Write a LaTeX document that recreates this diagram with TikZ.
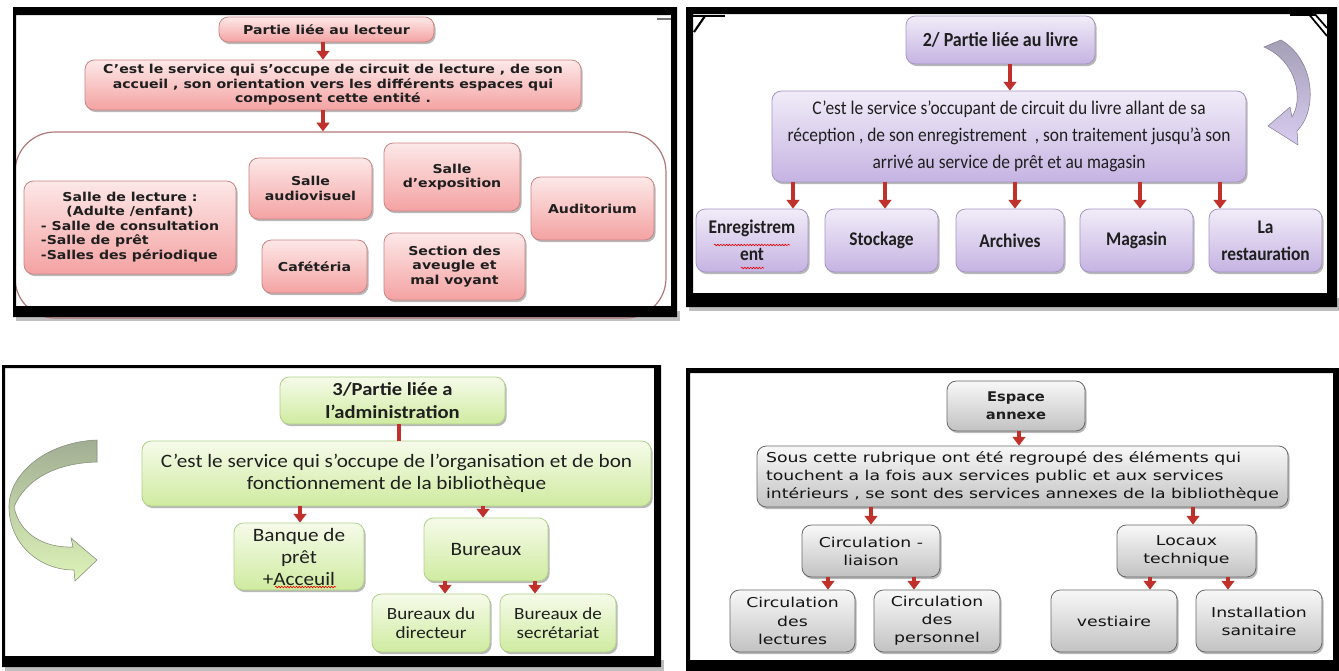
\documentclass[tikz,border=0pt]{standalone}
\usepackage{fontspec}
\usetikzlibrary{arrows.meta,shadows,decorations.pathmorphing}
\setmainfont{DejaVu Sans}
\newfontfamily\dvsq[FakeStretch=1.15]{DejaVu Sans}
\newfontfamily\dvsw[FakeStretch=1.27]{DejaVu Sans}
\newfontfamily\dvsb[FakeStretch=1.1]{DejaVu Sans}
\newfontfamily\carlw[FakeStretch=1.12]{Carlito}
\newfontfamily\carlc[FakeStretch=0.9]{Carlito}
\definecolor{pinkT}{HTML}{FDE8E8}
\definecolor{pinkB}{HTML}{F4A2A2}
\definecolor{pinkD}{HTML}{C98585}
\definecolor{contD}{HTML}{B07878}
\definecolor{lavT}{HTML}{F1ECF8}
\definecolor{lavB}{HTML}{C5B3E2}
\definecolor{lavD}{HTML}{A596C2}
\definecolor{grnT}{HTML}{F6FBEA}
\definecolor{grnB}{HTML}{CFEBA0}
\definecolor{grnD}{HTML}{B2D08A}
\definecolor{gryT}{HTML}{F8F8F8}
\definecolor{gryB}{HTML}{C2C2C2}
\definecolor{gryD}{HTML}{686868}
\definecolor{arrred}{HTML}{C0312B}
\definecolor{purArT}{HTML}{A59FB6}
\definecolor{purArB}{HTML}{D8CCF0}
\definecolor{grnArT}{HTML}{A2AE94}
\definecolor{grnArB}{HTML}{DDF3B8}
\tikzset{
  spanbox/.style n args={4}{minimum width={(#3-#1)*0.75pt}, minimum height={(#4-#2)*0.75pt},
    at={({(#1+#3)/2},{(#2+#4)/2})}},
  bx/.style={rectangle, rounded corners=7pt, line width=0.6pt, align=center, inner sep=0pt, text=black!88,
    drop shadow={shadow xshift=1.2pt, shadow yshift=-1.6pt, opacity=0.28, fill=black}},
  pbox/.style={bx, draw=pinkD, top color=pinkT, bottom color=pinkB},
  lbox/.style={bx, draw=lavD, top color=lavT, bottom color=lavB},
  gbox/.style={bx, draw=grnD, top color=grnT, bottom color=grnB},
  ybox/.style={bx, draw=gryD, top color=gryT, bottom color=gryB},
  contbox/.style={rectangle, draw=contD, line width=0.9pt, rounded corners=30pt, inner sep=0pt},
  redarrow/.style={draw=arrred, line width=3.6pt, -{Triangle[width=9.5pt,length=6.5pt]}},
  redbar/.style={draw=arrred, line width=3.6pt},
  wave/.style={draw=red, line width=0.45pt, decorate, decoration={snake, amplitude=0.6pt, segment length=2.2pt}},
  q1/.style={font=\dvsq\bfseries\fontsize{9.2}{10.9}\selectfont},
  q2/.style={font=\carlc\fontsize{14.5}{20}\selectfont},
  q2b/.style={font=\carlc\bfseries\fontsize{14.5}{20}\selectfont},
  q2t/.style={font=\carlc\bfseries\fontsize{15}{20}\selectfont},
  q3/.style={font=\carlw\fontsize{14.2}{16.5}\selectfont},
  q3b/.style={font=\carlw\bfseries\fontsize{13.8}{16.7}\selectfont},
  q3s/.style={font=\carlw\fontsize{12.8}{14.5}\selectfont},
  q4/.style={font=\dvsw\fontsize{10.2}{13.6}\selectfont, text=black!92},
  q4b/.style={font=\dvsb\bfseries\fontsize{10}{13.6}\selectfont},
  frame/.style={fill=black, even odd rule}
}
\begin{document}
\begin{tikzpicture}[x=0.75pt,y=-0.75pt]
\useasboundingbox (0,0) rectangle (1339,671);
\fill[white] (0,0) rectangle (1339,671);
% frame shadows
\fill[black!25] (16,311) rectangle (680,321);
\fill[black!25] (689,298) rectangle (1339,311);
\fill[black!25] (5,660) rectangle (664,671);

% ---------- Q1 ----------
\node[contbox, spanbox={15}{132}{666}{318}] (lc) {};
\node[pbox, q1, spanbox={219}{17}{434}{42}] (lt) {Partie liée au lecteur};
\node[pbox, q1, spanbox={85}{60}{581}{110}] (ld) {C’est le service qui s’occupe de circuit de lecture , de son\\accueil , son orientation vers les différents espaces qui\\composent cette entité .};
\node[pbox, q1, spanbox={24}{181}{236}{274}] (l1) {\begin{tabular}{@{}l@{}}\multicolumn{1}{@{}c@{}}{Salle de lecture :}\\\multicolumn{1}{@{}c@{}}{(Adulte /enfant)}\\- Salle de consultation\\-Salle de prêt\\-Salles des périodique\end{tabular}};
\node[pbox, q1, spanbox={249}{158}{372}{219}] (l2) {Salle\\audiovisuel};
\node[pbox, q1, spanbox={384}{143}{520}{211}] (l3) {Salle\\d’exposition};
\node[pbox, q1, spanbox={531}{177}{654}{240}] (l4) {Auditorium};
\node[pbox, q1, spanbox={262}{240}{367}{293}] (l5) {Cafétéria};
\node[pbox, q1, spanbox={384}{233}{525}{300}] (l6) {Section des\\aveugle et\\mal voyant};
\draw[redarrow] (lt.south -| 323,0) -- (ld.north -| 323,0);
\draw[redarrow] (ld.south -| 323,0) -- (lc.north -| 323,0);

% ---------- Q2 ----------
\path[top color=purArT, bottom color=purArB, draw=purArT!80!black, line width=0.4pt]
  (1281,40) .. controls (1315,60) and (1318,110) .. (1297,131)
  -- (1298,145) -- (1268,126) -- (1290,107) -- (1292,117)
  .. controls (1303,100) and (1298,62) .. (1264,47) -- cycle;
\node[lbox, q2t, spanbox={906}{16}{1095}{64}] (bt) {2/ Partie liée au livre};
\node[lbox, q2, spanbox={772}{91}{1246}{182}] (bd) {C’est le service s’occupant de circuit du livre allant de sa\\réception , de son enregistrement \ , son traitement jusqu’à son\\arrivé au service de prêt et au magasin};
\node[lbox, q2b, spanbox={696}{209}{808}{272}] (b1) {Enregistrem\\ent};
\node[lbox, q2b, spanbox={825}{209}{938}{272}] (b2) {Stockage};
\node[lbox, q2b, spanbox={956}{209}{1064}{272}] (b3) {Archives};
\node[lbox, q2b, spanbox={1080}{209}{1193}{272}] (b4) {Magasin};
\node[lbox, q2b, spanbox={1209}{209}{1322}{272}] (b5) {La\\restauration};
\draw[wave] (714,245) -- (790,245);
\draw[wave] (741,268) -- (764,268);
\draw[redarrow] (bt.south -| 1010,0) -- (bd.north -| 1010,0);
\draw[redarrow] (bd.south -| 793,0) -- (b1.north -| 793,0);
\draw[redarrow] (bd.south -| 885,0) -- (b2.north -| 885,0);
\draw[redarrow] (bd.south -| 1015,0) -- (b3.north -| 1015,0);
\draw[redarrow] (bd.south -| 1140,0) -- (b4.north -| 1140,0);
\draw[redarrow] (bd.south -| 1220,0) -- (b5.north -| 1220,0);

% ---------- Q3 ----------
\path[top color=grnArT, bottom color=grnArB, draw=grnArT!80!black, line width=0.4pt]
  (97,440) .. controls (45,442) and (8,475) .. (9,508)
  .. controls (10,545) and (40,570) .. (74,570)
  -- (75,581) -- (97,560) -- (71,538) -- (73,547)
  .. controls (45,548) and (20,535) .. (14,507)
  .. controls (25,480) and (55,463) .. (97,462) -- cycle;
\node[gbox, q3b, spanbox={280}{377}{505}{424}] (at) {3/Partie liée a\\l’administration};
\node[gbox, q3, spanbox={142}{441}{651}{506}] (ad) {C’est le service qui s’occupe de l’organisation et de bon\\fonctionnement de la bibliothèque};
\node[gbox, q3, spanbox={234}{523}{364}{590}] (a1) {Banque de\\prêt\\+Acceuil};
\node[gbox, q3, spanbox={424}{518}{548}{581}] (a2) {Bureaux};
\node[gbox, q3s, spanbox={372}{594}{490}{652}] (a3) {Bureaux du\\directeur};
\node[gbox, q3s, spanbox={500}{594}{616}{652}] (a4) {Bureaux de\\secrétariat};
\draw[wave] (275,587) -- (336,587);
\draw[redbar] (at.south -| 399,0) -- (ad.north -| 399,0);
\draw[redarrow] (ad.south -| 300,0) -- (a1.north -| 300,0);
\draw[redarrow] (ad.south -| 483,0) -- (a2.north -| 483,0);
\draw[redarrow] (a2.south -| 445,0) -- (a3.north -| 445,0);
\draw[redarrow] (a2.south -| 535,0) -- (a4.north -| 535,0);

% ---------- Q4 ----------
\node[ybox, q4b, spanbox={947}{381}{1085}{431}] (et) {Espace\\annexe};
\node[ybox, q4, align=left, spanbox={757}{446}{1288}{507}] (ed) {Sous cette rubrique ont été regroupé des éléments qui\\touchent a la fois aux services public et aux services\\intérieurs , se sont des services annexes de la bibliothèque};
\node[ybox, q4, spanbox={802}{525}{940}{577}] (e1) {Circulation -\\liaison};
\node[ybox, q4, spanbox={1117}{525}{1256}{577}] (e2) {Locaux\\technique};
\node[ybox, q4, spanbox={730}{590}{855}{652}] (e3) {Circulation\\des\\lectures};
\node[ybox, q4, spanbox={874}{590}{1000}{652}] (e4) {Circulation\\des\\personnel};
\node[ybox, q4, spanbox={1051}{590}{1177}{652}] (e5) {vestiaire};
\node[ybox, q4, spanbox={1196}{590}{1322}{652}] (e6) {Installation\\sanitaire};
\draw[redarrow] (et.south -| 1019,0) -- (ed.north -| 1019,0);
\draw[redarrow] (ed.south -| 871,0) -- (e1.north -| 871,0);
\draw[redarrow] (ed.south -| 1193,0) -- (e2.north -| 1193,0);
\draw[redarrow] (e1.south -| 828,0) -- (e3.north -| 828,0);
\draw[redarrow] (e1.south -| 914,0) -- (e4.north -| 914,0);
\draw[redarrow] (e2.south -| 1150,0) -- (e5.north -| 1150,0);
\draw[redarrow] (e2.south -| 1228,0) -- (e6.north -| 1228,0);

% ---------- frames ----------
\fill[frame] (13,7) rectangle (677,317) (16,15) rectangle (671,306);
\fill[frame] (686,7) rectangle (1337,307) (693,14) rectangle (1327,293);
\fill[frame] (2,365) rectangle (661,667) (5,368) rectangle (654,656);
\fill[frame] (686,368) rectangle (1339,671) (690,373) rectangle (1333,660);
% corner marks
\draw[black!55, line width=1.2pt] (657,19) -- (671,19);
\draw[line width=1.3pt] (693,16) -- (725,16);
\draw[line width=1.6pt] (694,32) -- (705,16);
\draw[line width=1.3pt] (1290,15) -- (1316,15);
\draw[line width=1.3pt] (1307,12) -- (1327,36);
\draw[line width=1.3pt] (1313,12) -- (1327,28);
\end{tikzpicture}
\end{document}
